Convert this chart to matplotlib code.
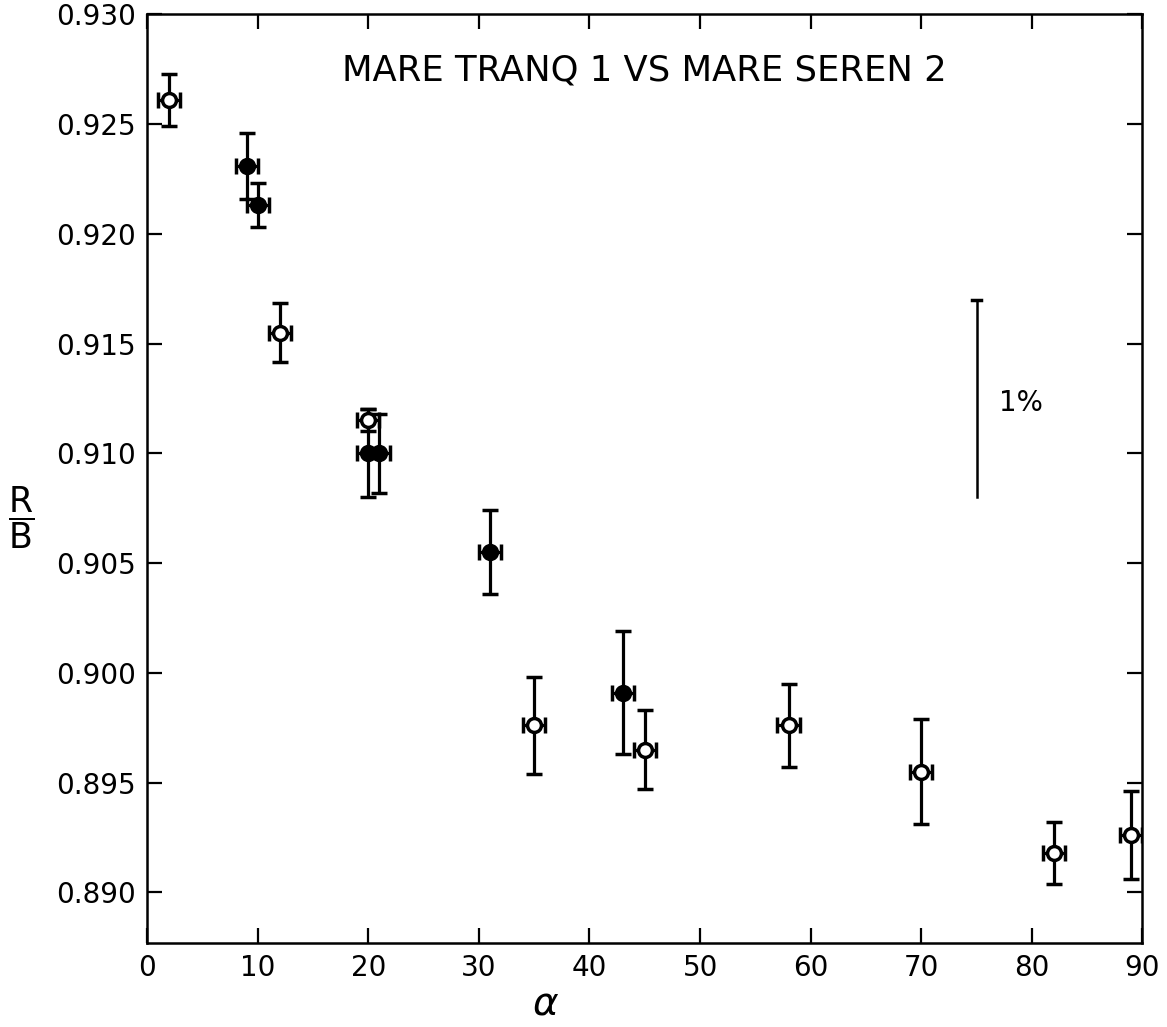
import numpy as np
import matplotlib
matplotlib.use('Agg')
import matplotlib.pyplot as plt

# phase angle (deg), R/B ratio, half-width of error bars
alpha = [2, 9, 10, 12, 20, 20, 21, 31, 35, 43, 45, 58, 70, 82, 89]
ratio = [0.9261, 0.9231, 0.9213, 0.9155, 0.9115, 0.9100, 0.9100, 0.9055,
         0.8976, 0.8991, 0.8965, 0.8976, 0.8955, 0.8918, 0.8926]
err_y = [0.0012, 0.0015, 0.0010, 0.00135, 0.0005, 0.0020, 0.0018, 0.0019,
         0.0022, 0.0028, 0.0018, 0.0019, 0.0024, 0.0014, 0.0020]
err_x = [1, 1, 1, 1, 1, 1, 1, 1, 1, 1, 1, 1, 1, 1, 1]
filled = [False, True, True, False, False, True, True, True,
          False, True, False, False, False, False, False]

title = 'MARE TRANQ 1 VS MARE SEREN 2'
xticks = [0, 10, 20, 30, 40, 50, 60, 70, 80, 90]
yticks = [0.890, 0.895, 0.900, 0.905, 0.910, 0.915, 0.920, 0.925, 0.930]

plt.rcParams['font.family'] = ['DejaVu Sans']

fig = plt.figure(figsize=(11.67, 10.27), dpi=100)
ax = fig.add_axes([0.126, 0.082, 0.853, 0.904])

x = np.array(alpha, dtype=float)
y = np.array(ratio)
ey = np.array(err_y)
ex = np.array(err_x, dtype=float)
f = np.array(filled)

for mask, face in [(~f, 'white'), (f, 'black')]:
    ax.errorbar(x[mask], y[mask], yerr=ey[mask], xerr=ex[mask], fmt='o',
                ms=10, mfc=face, mec='black', mew=2.5, ecolor='black',
                elinewidth=2.3, capsize=6, capthick=3.5, zorder=3)

# 1% scale bar
ax.plot([75, 75], [0.908, 0.917], color='black', lw=1.8)
ax.plot([74.6, 75.4], [0.917, 0.917], color='black', lw=2.5)
ax.text(77.0, 0.9123, '1%', fontsize=20, va='center', ha='left')

ax.text(0.5, 0.94, title, transform=ax.transAxes, ha='center', va='center',
        fontsize=25.5)

ax.set_xlim(0, 90)
ax.set_ylim(0.8877, 0.930)
ax.set_xticks(xticks)
ax.set_yticks(yticks)
ax.set_xticklabels([str(t) for t in xticks])
ax.set_yticklabels(['%.3f' % t for t in yticks])
ax.tick_params(direction='in', length=11, width=1.6, labelsize=20,
               top=True, right=True, pad=8)
for s in ax.spines.values():
    s.set_linewidth(1.8)

ax.set_xlabel(r'$\alpha$', fontsize=28)
ax.xaxis.set_label_coords(0.40, -0.045)
ax.set_ylabel(r'$\dfrac{\mathrm{R}}{\mathrm{B}}$', fontsize=25, rotation=0,
              va='center')
ax.yaxis.set_label_coords(-0.127, 0.458)

fig.savefig('out.png', dpi=100)
